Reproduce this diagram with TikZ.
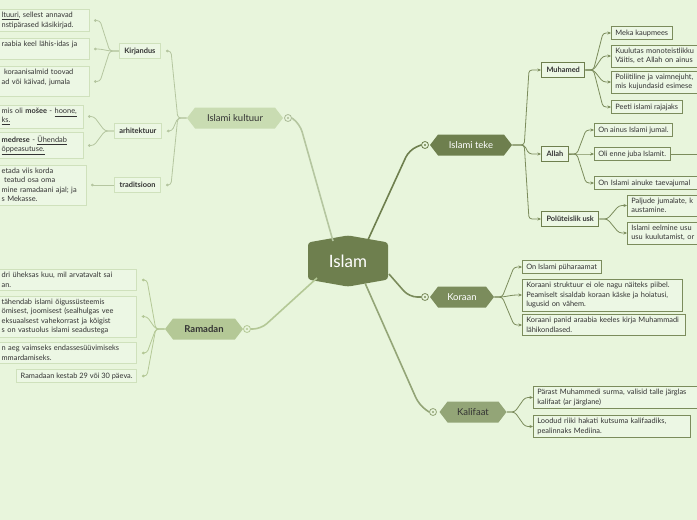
\documentclass[tikz,border=0pt]{standalone}
\usepackage{fontspec}
\setmainfont{Lato}
\usetikzlibrary{shapes.symbols, arrows.meta, positioning, calc}

\definecolor{paper}{HTML}{E8F5DC}
\definecolor{leafbg}{HTML}{ECF7E4}
\definecolor{olive}{HTML}{6E7F4E}
\definecolor{olivemid}{HTML}{7B8C5C}
\definecolor{olivelt}{HTML}{93A577}
\definecolor{sage}{HTML}{B4C896}
\definecolor{mint}{HTML}{C9DCB2}
\definecolor{paleline}{HTML}{CFE1BC}
\definecolor{ink}{HTML}{333333}

\begin{document}
\begin{tikzpicture}[x=1pt, y=-1pt,
    hub/.style={shape=signal, signal to=north and south, signal pointer angle=160, fill=olive, text=white,
        minimum width=80, minimum height=45, rounded corners=3, font=\fontsize{17}{17}\selectfont},
    topic/.style={shape=signal, signal to=east and west, signal pointer angle=105, minimum height=21,
        inner sep=0pt, font=\fontsize{9.5}{10}\selectfont},
    knob/.style={circle, draw=#1, fill=paper, line width=0.8, minimum size=7, inner sep=0pt,
        path picture={\fill[#1] (path picture bounding box.center) circle (1.2pt);}},
    twig/.style={draw=olive, line width=1.1, fill=leafbg, text=ink, minimum height=15, inner xsep=5,
        font=\fontsize{7.4}{9}\selectfont\bfseries},
    sprig/.style={twig, draw=paleline},
    leaf/.style={draw=olivemid, line width=0.7, fill=leafbg, text=ink, align=left, inner xsep=4, inner ysep=3,
        font=\fontsize{7.4}{9.5}\selectfont},
    paleleaf/.style={leaf, draw=paleline},
    trunk/.style={line width=1.6, rounded corners=8},
    fork/.style={olivemid, line width=0.8, rounded corners=3, -{Stealth[length=3.5pt, width=3pt]}},
    palefork/.style={line width=0.8, rounded corners=3, -{Circle[length=2.6pt]}}
]
    \fill[paper] (0,0) rectangle (697,520);
    \clip (0,0) rectangle (697,520);

    % centre and main topics
    \node[hub] (islam) at (348,261) {Islam};
    \node[topic, fill=mint, text=ink, minimum width=96] (kultuur) at (235,118) {Islami kultuur};
    \node[topic, fill=olive, text=white, minimum width=82] (teke) at (471,145) {Islami teke};
    \node[topic, fill=olivemid, text=white, minimum width=64] (koraan) at (462,297) {Koraan};
    \node[topic, fill=olivelt, text=ink, minimum width=67] (kalifaat) at (473,412) {Kalifaat};
    \node[topic, fill=sage, text=ink, minimum width=78, font=\fontsize{9.5}{10}\selectfont\bfseries] (ramadan) at (204,329) {Ramadan};

    \node[knob=mint!85!black] (kultuurK) at (288,118) {};
    \node[knob=olive] (tekeK) at (425,145) {};
    \node[knob=olivemid] (koraanK) at (425,297) {};
    \node[knob=olivelt] (kalifaatK) at (433,412) {};
    \node[knob=sage] (ramadanK) at (247,329) {};

    \draw[trunk, mint!90!black] ($(islam.center)+(-15,-20)$) -- ([xshift=8,yshift=-6]kultuurK.east) -- (kultuurK.east);
    \draw[trunk, olive] ($(islam.center)+(19,-19)$) -- ([xshift=-12,yshift=-5]tekeK.west) -- (tekeK.west);
    \draw[trunk, olivemid] ($(islam.center)+(41,13)$) -- ([xshift=-12]koraanK.west) -- (koraanK.west);
    \draw[trunk, olivelt] ($(islam.center)+(17,22)$) -- ([xshift=-10,yshift=7]kalifaatK.west) -- (kalifaatK.west);
    \draw[trunk, sage] ($(islam.center)+(-31,17)$) -- ([xshift=10]ramadanK.east) -- (ramadanK.east);

    % Islami teke
    \node[twig, anchor=west] (muhamed) at (541,70) {Muhamed};
    \node[twig, anchor=west] (allah) at (541,154) {Allah};
    \node[twig, anchor=west] (polu) at (541,219) {Polüteislik usk};
    \foreach \c in {muhamed, allah, polu}
        \draw[fork] (teke.east) -- ++(12,0) -- ([xshift=-12]\c.west) -- (\c.west);

    \node[leaf, anchor=west] (meka) at (611,33) {Meka kaupmees};
    \node[leaf, anchor=west, text width=110] (kuulutas) at (611,56) {Kuulutas monoteistlikku\\Väitis, et Allah on ainus};
    \node[leaf, anchor=west, text width=110] (poliit) at (611,82) {Poliitiline ja vaimnejuht,\\mis kujundasid esimese};
    \node[leaf, anchor=west] (peeti) at (611,107) {Peeti islami rajajaks};
    \foreach \c in {meka, kuulutas, poliit, peeti}
        \draw[fork] (muhamed.east) -- ++(8,0) -- ([xshift=-8]\c.west) -- (\c.west);

    \node[leaf, anchor=west] (ainus) at (594,130) {On ainus Islami jumal.};
    \node[leaf, anchor=west] (enne) at (594,154) {Oli enne juba Islamit.};
    \node[leaf, anchor=west, text width=110] (taevas) at (594,183) {On Islami ainuke taevajumal};
    \foreach \c in {ainus, enne, taevas}
        \draw[fork] (allah.east) -- ++(8,0) -- ([xshift=-8]\c.west) -- (\c.west);
    \coordinate (enneR) at (697,154);
    \draw[olivemid, line width=0.8] (enne.east) -- (enneR);

    \node[leaf, anchor=west, text width=80] (paljude) at (627,205.5) {Paljude jumalate, k\\austamine.};
    \node[leaf, anchor=west, text width=80] (eelmine) at (627,233) {Islami eelmine usu\\usu kuulutamist, or};
    \foreach \c in {paljude, eelmine}
        \draw[fork] (polu.east) -- ++(8,0) -- ([xshift=-8]\c.west) -- (\c.west);

    % Koraan
    \node[leaf, anchor=west] (puha) at (522,267) {On Islami püharaamat};
    \node[leaf, anchor=west, text width=152] (struktuur) at (522,295) {Koraani struktuur ei ole nagu näiteks piibel.\\Peamiselt sisaldab koraan käske ja hoiatusi,\\lugusid on vähem.};
    \node[leaf, anchor=west, text width=155] (araabia) at (522,325) {Koraani panid araabia keeles kirja Muhammadi\\lähikondlased.};
    \foreach \c in {puha, struktuur, araabia}
        \draw[fork] (koraan.east) -- ++(8,0) -- ([xshift=-8]\c.west) -- (\c.west);

    % Kalifaat
    \node[leaf, anchor=west, text width=170] (parast) at (533,397.5) {Pärast Muhammedi surma, valisid talle järglas\\kalifaat (ar järglane)};
    \node[leaf, anchor=west, text width=149] (riik) at (533,426.5) {Loodud riiki hakati kutsuma kalifaadiks,\\pealinnaks Mediina.};
    \foreach \c in {parast, riik}
        \draw[fork] (kalifaat.east) -- ++(8,0) -- ([xshift=-8]\c.west) -- (\c.west);

    % Islami kultuur
    \node[sprig, anchor=east] (kirjandus) at (161,51) {Kirjandus};
    \node[sprig, anchor=east] (arhitektuur) at (162,131) {arhitektuur};
    \node[sprig, anchor=east] (traditsioon) at (161,185) {traditsioon};
    \foreach \c in {kirjandus, arhitektuur, traditsioon}
        \draw[palefork, mint!90!black] (kultuur.west) -- ++(-9,0) -- ([xshift=10]\c.east) -- ([xshift=5]\c.east);

    \node[paleleaf, anchor=east, text width=84] (kultuuri) at (90,20.5) {\underline{ltuuri}, sellest annavad\\nstipärased käsikirjad.};
    \node[paleleaf, anchor=east, text width=84] (keel) at (90,49) {raabia keel lähis-idas ja\\\mbox{}};
    \node[paleleaf, anchor=east, text width=84] (salmid) at (90,81.5) {\ koraanisalmid toovad\\ad või käivad, jumala\\\mbox{}};
    \foreach \c in {kultuuri, keel, salmid}
        \draw[palefork, mint!90!black] (kirjandus.west) -- ++(-9,0) -- ([xshift=10]\c.east) -- ([xshift=4]\c.east);

    \node[paleleaf, anchor=east, text width=78] (mosee) at (84,116.5) {mis oli \textbf{mošee} - \underline{hoone,}\\\underline{ks.}};
    \node[paleleaf, anchor=east, text width=78] (medrese) at (84,145.5) {\textbf{medrese} - \underline{Ühendab}\\\underline{õppeasutuse.}};
    \foreach \c in {mosee, medrese}
        \draw[palefork, mint!90!black] (arhitektuur.west) -- ++(-9,0) -- ([xshift=10]\c.east) -- ([xshift=4]\c.east);

    \node[paleleaf, anchor=east, text width=81] (viis) at (87,185) {etada viis korda\\\ teatud osa oma\\mine ramadaani ajal; ja\\s Mekasse.};
    \draw[palefork, mint!90!black] (traditsioon.west) -- ([xshift=4]viis.east);

    % Ramadan
    \node[paleleaf, anchor=east, text width=131] (uheksas) at (137,280) {dri üheksas kuu, mil arvatavalt sai\\an.};
    \node[paleleaf, anchor=east, text width=131] (paast) at (137,316.5) {tähendab islami õigussüsteemis\\ömisest, joomisest (sealhulgas vee\\eksuaalsest vahekorrast ja kõigist\\s on vastuolus islami seadustega};
    \node[paleleaf, anchor=east, text width=131] (aeg) at (137,353) {n aeg vaimseks endassesüüvimiseks\\mmardamiseks.};
    \node[paleleaf, anchor=east] (kestab) at (137,376) {Ramadaan kestab 29 või 30 päeva.};
    \foreach \c in {uheksas, paast, aeg, kestab}
        \draw[palefork, sage] (ramadan.west) -- ++(-9,0) -- ([xshift=10]\c.east) -- ([xshift=5]\c.east);
\end{tikzpicture}
\end{document}
